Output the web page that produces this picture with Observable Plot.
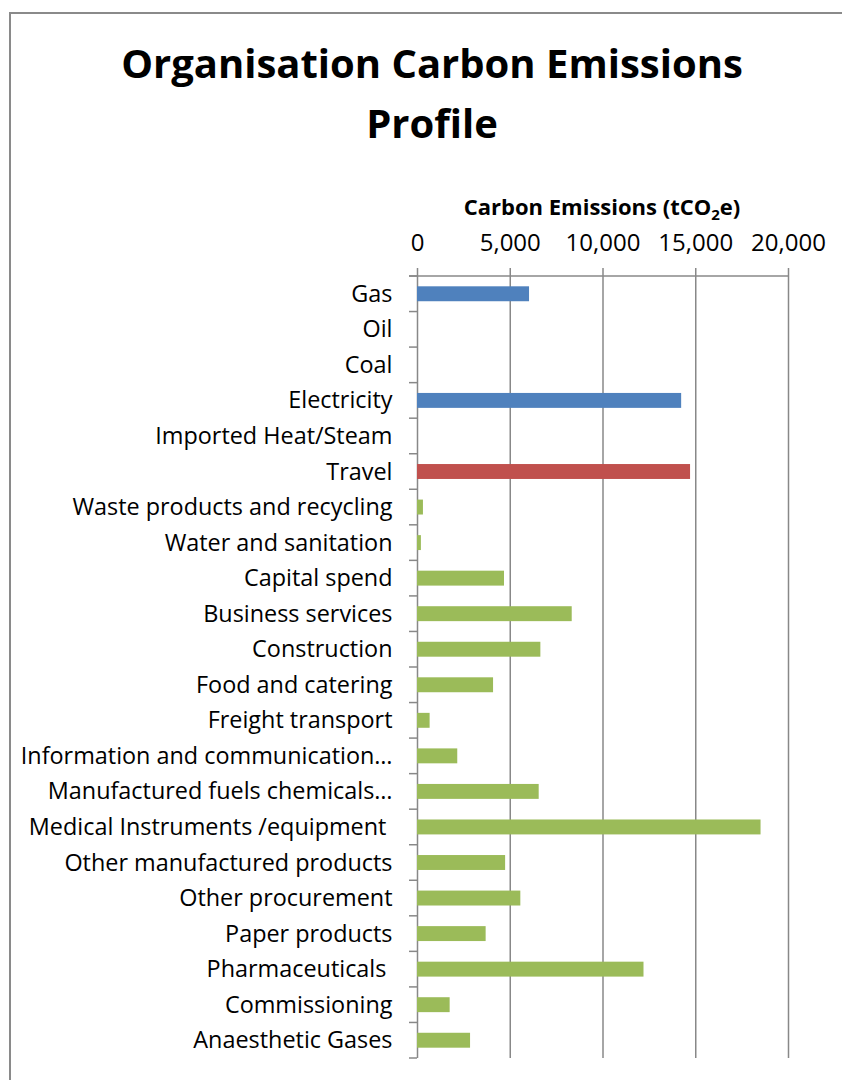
<!DOCTYPE html>
<html>
<head>
<meta charset="utf-8">
<script src="https://cdn.jsdelivr.net/npm/d3@7"></script>
<script src="https://cdn.jsdelivr.net/npm/@observablehq/plot@0.6"></script>
<style>
  html, body { margin: 0; padding: 0; background: #fff; }
  body { width: 842px; height: 1080px; overflow: hidden; position: relative; font-family: "Open Sans", Lato, sans-serif; }
  #frame { position: absolute; left: 9px; top: 12px; width: 900px; height: 1100px; border: 2px solid #8a8a8a; box-sizing: border-box; }
  #title { position: absolute; left: 9px; width: 846px; top: 33px; text-align: center; font-weight: bold; font-size: 40px; line-height: 60px; color: #000; }
  #xlabel { position: absolute; left: 402px; width: 400px; top: 191px; text-align: center; font-weight: bold; font-size: 22px; line-height: 30px; color: #000; }
  #xlabel sub { font-size: 15px; vertical-align: -5px; line-height: 0; }
  #chart { position: absolute; left: 0; top: 225px; }
  #chart svg text { white-space: pre; }
</style>
</head>
<body>
<div id="frame"></div>
<div id="title">Organisation Carbon Emissions<br>Profile</div>
<div id="xlabel">Carbon Emissions (tCO<sub>2</sub>e)</div>
<div id="chart"></div>
<script>
const categories = [
  "Gas", "Oil", "Coal", "Electricity", "Imported Heat/Steam", "Travel",
  "Waste products and recycling", "Water and sanitation", "Capital spend",
  "Business services", "Construction", "Food and catering", "Freight transport",
  "Information and communication…", "Manufactured fuels chemicals…",
  "Medical Instruments /equipment ", "Other manufactured products",
  "Other procurement", "Paper products", "Pharmaceuticals ", "Commissioning",
  "Anaesthetic Gases"
];
const values = [
  6040, 0, 0, 14240, 0, 14720,
  320, 210, 4690,
  8340, 6650, 4100, 680,
  2170, 6560,
  18520, 4750,
  5570, 3700, 12210, 1760,
  2860
];
const groups = [
  "Energy", "Energy", "Energy", "Energy", "Energy", "Travel",
  "Procurement", "Procurement", "Procurement", "Procurement", "Procurement",
  "Procurement", "Procurement", "Procurement", "Procurement", "Procurement",
  "Procurement", "Procurement", "Procurement", "Procurement", "Procurement",
  "Procurement"
];
const groupNames = ["Energy", "Travel", "Procurement"];
const groupColors = ["#4f81bd", "#c0504d", "#9bbb59"];
const xTicks = [0, 5000, 10000, 15000, 20000];

const data = categories.map((c, i) => ({category: c, value: values[i], group: groups[i]}));
const GRID = "#888888";

function categoryAxis(index, scales) {
  const x = scales.x, y = scales.y;
  const dom = y.domain();
  const step = y.step ? y.step() : (y(dom[1]) - y(dom[0]));
  const bw = y.bandwidth ? y.bandwidth() : step * 0.42;
  const x0 = x(0);
  const bounds = dom.map(c => y(c) - (step - bw) / 2);
  bounds.push(bounds[bounds.length - 1] + step);
  const g = d3.create("svg:g").attr("stroke", GRID).attr("stroke-width", 1.5).attr("fill", "none");
  g.selectAll("line.tick").data(bounds).join("line")
    .attr("class", "tick")
    .attr("x1", x0 - 8).attr("x2", x0)
    .attr("y1", d => d).attr("y2", d => d);
  g.append("line")
    .attr("x1", x0 - 8).attr("x2", x(d3.max(xTicks)))
    .attr("y1", bounds[0]).attr("y2", bounds[0]);
  return g.node();
}

const chart = Plot.plot({
  width: 842,
  height: 855,
  marginTop: 51,
  marginBottom: 22,
  marginLeft: 417,
  marginRight: 54,
  style: {fontFamily: "'Open Sans', Lato, sans-serif", fontSize: "23.4px", color: "#000", background: "transparent"},
  x: {
    domain: [0, 20000], axis: "top", ticks: xTicks, tickFormat: d3.format(","),
    tickSize: 0, tickPadding: 26, label: null
  },
  y: {
    domain: categories, paddingInner: 0.58, paddingOuter: 0.29, round: false,
    tickSize: 0, tickPadding: 25, label: null
  },
  color: {domain: groupNames, range: groupColors},
  marks: [
    Plot.ruleX(xTicks, {x: d => d, stroke: GRID, strokeWidth: 1.5, insetTop: -8}),
    Plot.barX(data, {x: "value", y: "category", fill: "group"}),
    categoryAxis
  ]
});
chart.querySelectorAll('[aria-label="x-axis"] text, [aria-label="x-axis tick label"] text').forEach(t => t.style.fontSize = "24px");
document.getElementById("chart").appendChild(chart);
</script>
</body>
</html>
